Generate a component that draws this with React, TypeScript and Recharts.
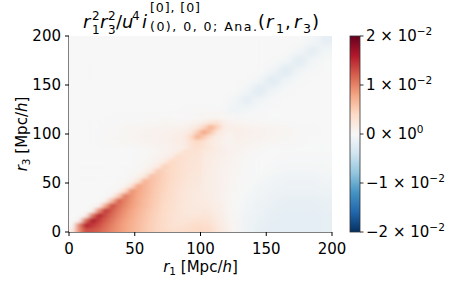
import { Scatter, ScatterChart, XAxis, YAxis } from "recharts";

// values in units of 1e-2

// coarse 10 Mpc/h grid over the whole plane
const coarseR1 = [5, 15, 25, 35, 45, 55, 65, 75, 85, 95, 105, 115, 125, 135, 145, 155, 165, 175, 185, 195];
const coarseR3 = [5, 15, 25, 35, 45, 55, 65, 75, 85, 95, 105, 115, 125, 135, 145, 155, 165, 175, 185, 195];
const coarseRows = [
  [0.6, 1.3, 1.1, 0.92, 0.75, 0.6, 0.46, 0.37, 0.32, 0.36, 0.38, 0.2, 0.04, -0.1, -0.16, -0.19, -0.2, -0.2, -0.2, -0.18],
  [0.05, 1.45, 1.4, 1.05, 0.8, 0.65, 0.49, 0.37, 0.28, 0.28, 0.28, 0.15, 0.03, -0.08, -0.14, -0.18, -0.2, -0.2, -0.2, -0.18],
  [0, 0.1, 1.2, 1.15, 0.88, 0.7, 0.52, 0.4, 0.27, 0.22, 0.2, 0.12, 0.02, -0.06, -0.12, -0.15, -0.18, -0.18, -0.18, -0.16],
  [0, 0, 0.05, 0.9, 0.92, 0.73, 0.55, 0.42, 0.27, 0.2, 0.16, 0.1, 0.02, -0.04, -0.1, -0.13, -0.15, -0.15, -0.15, -0.14],
  [0, 0, 0, 0.03, 0.6, 0.74, 0.57, 0.44, 0.29, 0.21, 0.15, 0.1, 0.03, -0.02, -0.06, -0.1, -0.12, -0.12, -0.12, -0.1],
  [0, 0, 0, 0, 0.04, 0.45, 0.58, 0.45, 0.31, 0.23, 0.15, 0.1, 0.04, 0, -0.03, -0.06, -0.08, -0.08, -0.08, -0.06],
  [0, 0, 0, 0, 0.02, 0.06, 0.35, 0.44, 0.32, 0.25, 0.16, 0.1, 0.05, 0.01, -0.01, -0.03, -0.04, -0.04, -0.04, -0.03],
  [0, 0, 0, 0.01, 0.02, 0.04, 0.08, 0.3, 0.33, 0.27, 0.17, 0.12, 0.06, 0.02, 0, -0.01, -0.02, -0.02, -0.02, -0.02],
  [0, 0, 0, 0, 0.01, 0.02, 0.04, 0.07, 0.15, 0.3, 0.2, 0.14, 0.08, 0.04, 0.02, 0, 0, -0.01, -0.01, -0.01],
  [0, 0, 0.01, 0.03, 0.05, 0.07, 0.09, 0.11, 0.16, 0.35, 0.3, 0.2, 0.13, 0.09, 0.07, 0.05, 0.03, 0.01, 0, 0],
  [0, 0, 0.01, 0.02, 0.04, 0.06, 0.07, 0.09, 0.12, 0.25, 0.4, 0.3, 0.16, 0.11, 0.08, 0.06, 0.04, 0.02, 0.01, 0],
  [0, 0, 0, 0.01, 0.01, 0.02, 0.02, 0.03, 0.04, 0.06, 0.1, 0.1, 0.04, 0.02, 0.01, 0, 0, 0, 0, 0],
  [0, 0, 0, 0, 0, 0, 0, 0, 0, 0.01, 0.02, 0, -0.1, -0.05, -0.02, -0.01, 0, 0, 0, 0],
  [0, 0, 0, 0, 0, 0, 0, 0, 0, 0, 0, 0, -0.05, -0.2, -0.06, -0.02, 0, 0, 0, 0],
  [0, 0, 0, 0, 0, 0, 0, 0, 0, 0, 0, 0, 0, -0.06, -0.28, -0.06, -0.02, 0, 0, 0],
  [0, 0, 0, 0, 0, 0, 0, 0, 0, 0, 0, 0, 0, 0, -0.06, -0.3, -0.06, -0.02, 0, 0],
  [0, 0, 0, 0, 0, 0, 0, 0, 0, 0, 0, 0, 0, 0, 0, -0.06, -0.3, -0.06, -0.02, 0],
  [0, 0, 0, 0, 0, 0, 0, 0, 0, 0, 0, 0, 0, 0, 0, 0, -0.05, -0.26, -0.05, -0.01],
  [0, 0, 0, 0, 0, 0, 0, 0, 0, 0, 0, 0, 0, 0, 0, 0, 0, -0.05, -0.22, -0.05],
  [0, 0, 0, 0, 0, 0, 0, 0, 0, 0, 0, 0, 0, 0, 0, 0, 0, 0, -0.05, -0.18],
];

// finer 5 Mpc/h patch over the wedge near the origin
const wedgeR1 = [2.5, 7.5, 12.5, 17.5, 22.5, 27.5, 32.5, 37.5, 42.5, 47.5, 52.5, 57.5, 62.5, 67.5, 72.5, 77.5, 82.5, 87.5, 92.5, 97.5];
const wedgeR3 = [2.5, 7.5, 12.5, 17.5, 22.5, 27.5, 32.5, 37.5, 42.5, 47.5, 52.5, 57.5, 62.5, 67.5, 72.5, 77.5, 82.5];
const wedgeRows = [
  [0.15, 0.95, 1.3, 1.28, 1.2, 1.09, 0.98, 0.88, 0.79, 0.7, 0.62, 0.55, 0.48, 0.43, 0.38, 0.35, 0.33, 0.34, 0.37, 0.4],
  [0.02, 1.0, 1.58, 1.44, 1.3, 1.15, 1.02, 0.9, 0.8, 0.71, 0.63, 0.55, 0.48, 0.42, 0.37, 0.32, 0.29, 0.3, 0.34, 0.38],
  [0, 0.08, 1.1, 1.63, 1.42, 1.23, 1.08, 0.94, 0.83, 0.73, 0.64, 0.56, 0.49, 0.43, 0.37, 0.32, 0.28, 0.27, 0.28, 0.32],
  [0, 0, 0.08, 1.05, 1.56, 1.33, 1.15, 1.0, 0.87, 0.76, 0.66, 0.58, 0.5, 0.44, 0.37, 0.32, 0.28, 0.25, 0.24, 0.25],
  [0, 0, 0, 0.07, 0.92, 1.45, 1.23, 1.05, 0.91, 0.79, 0.69, 0.6, 0.52, 0.45, 0.38, 0.33, 0.28, 0.24, 0.22, 0.21],
  [0, 0, 0, 0, 0.06, 0.76, 1.33, 1.12, 0.97, 0.84, 0.72, 0.63, 0.54, 0.46, 0.39, 0.33, 0.28, 0.24, 0.21, 0.2],
  [0, 0, 0, 0, 0, 0.06, 0.62, 1.19, 1.01, 0.87, 0.74, 0.64, 0.55, 0.48, 0.41, 0.35, 0.3, 0.25, 0.21, 0.19],
  [0, 0, 0, 0, 0, 0, 0.06, 0.49, 1.05, 0.89, 0.76, 0.66, 0.57, 0.49, 0.42, 0.36, 0.3, 0.25, 0.21, 0.19],
  [0, 0, 0, 0, 0, 0, 0.01, 0.06, 0.37, 0.92, 0.78, 0.68, 0.58, 0.5, 0.43, 0.37, 0.31, 0.26, 0.22, 0.2],
  [0, 0, 0, 0, 0, 0, 0, 0.02, 0.06, 0.3, 0.81, 0.69, 0.59, 0.51, 0.44, 0.38, 0.32, 0.27, 0.23, 0.21],
  [0, 0, 0, 0, 0, 0, 0, 0, 0.02, 0.07, 0.25, 0.71, 0.6, 0.52, 0.45, 0.39, 0.33, 0.28, 0.24, 0.22],
  [0, 0, 0, 0, 0, 0, 0, 0, 0, 0.03, 0.08, 0.22, 0.61, 0.53, 0.46, 0.4, 0.34, 0.29, 0.25, 0.23],
  [0, 0, 0, 0, 0, 0, 0, 0, 0, 0.01, 0.04, 0.09, 0.2, 0.53, 0.46, 0.4, 0.35, 0.3, 0.26, 0.24],
  [0, 0, 0, 0, 0, 0, 0, 0, 0, 0, 0.02, 0.05, 0.1, 0.18, 0.47, 0.41, 0.35, 0.3, 0.27, 0.25],
  [0, 0, 0, 0, 0, 0, 0, 0, 0, 0, 0.01, 0.03, 0.06, 0.1, 0.17, 0.41, 0.36, 0.31, 0.28, 0.26],
  [0, 0, 0, 0, 0, 0, 0, 0, 0, 0, 0.01, 0.02, 0.04, 0.07, 0.1, 0.16, 0.36, 0.32, 0.29, 0.27],
  [0, 0, 0, 0, 0, 0, 0, 0, 0, 0, 0.01, 0.02, 0.03, 0.05, 0.08, 0.1, 0.15, 0.32, 0.3, 0.3],
];

// finer patch over the spot near (103, 102)
const spotR1 = [82.5, 87.5, 92.5, 97.5, 102.5, 107.5, 112.5, 117.5, 122.5];
const spotR3 = [87.5, 92.5, 97.5, 102.5, 107.5, 112.5, 117.5];
const spotRows = [
  [0.11, 0.15, 0.3, 0.33, 0.28, 0.2, 0.14, 0.1, 0.07],
  [0.13, 0.17, 0.3, 0.4, 0.3, 0.19, 0.13, 0.09, 0.06],
  [0.13, 0.17, 0.38, 0.7, 0.52, 0.28, 0.15, 0.1, 0.07],
  [0.11, 0.14, 0.21, 0.48, 0.8, 0.58, 0.24, 0.13, 0.09],
  [0.07, 0.09, 0.13, 0.21, 0.43, 0.7, 0.48, 0.17, 0.1],
  [0.03, 0.04, 0.06, 0.09, 0.15, 0.24, 0.28, 0.13, 0.07],
  [0, 0, 0.01, 0.02, 0.03, 0.04, 0.05, 0.03, 0.02],
];

const axisTicks = [0, 50, 100, 150, 200];
const colorbarTicks = [-2, -1, 0, 1, 2];
const colorbarMantissa = ["\u22122", "\u22121", "0", "1", "2"];
const colorbarExponent = ["\u22122", "\u22122", "0", "\u22122", "\u22122"];

const W = 460;
const H = 287;
const PLOT = { left: 69, top: 36, right: 332, bottom: 232 };
const PW = PLOT.right - PLOT.left;
const PH = PLOT.bottom - PLOT.top;
const DOMAIN = 200;
const VMAX = 2;
const FONT = "DejaVu Sans";

const RDBU = ["#053061", "#2166ac", "#4393c3", "#92c5de", "#d1e5f0", "#f7f7f7", "#fddbc7", "#f4a582", "#d6604d", "#b2182b", "#67001f"];

function hex(c: string) {
  return [1, 3, 5].map((i) => parseInt(c.slice(i, i + 2), 16));
}

function rdbu(v: number) {
  const t = Math.min(1, Math.max(0, (v + VMAX) / (2 * VMAX))) * (RDBU.length - 1);
  const i = Math.min(RDBU.length - 2, Math.floor(t));
  const f = t - i;
  const a = hex(RDBU[i]);
  const b = hex(RDBU[i + 1]);
  const c = a.map((x, k) => Math.round(x + (b[k] - x) * f));
  return `rgb(${c[0]},${c[1]},${c[2]})`;
}

function toCells(xs: number[], ys: number[], rows: number[][]) {
  return rows.flatMap((row, j) => row.map((v, i) => ({ r1: xs[i], r3: ys[j], v })));
}

const coarseCells = toCells(coarseR1, coarseR3, coarseRows);
const wedgeCells = toCells(wedgeR1, wedgeR3, wedgeRows);
const spotCells = toCells(spotR1, spotR3, spotRows);

function makeCell(step: number) {
  const w = (step / DOMAIN) * PW;
  const h = (step / DOMAIN) * PH;
  return function Cell(props: any) {
    const { cx, cy, payload } = props;
    if (cx == null || cy == null) return null;
    let x0 = cx - w / 2;
    let x1 = cx + w / 2;
    let y0 = cy - h / 2;
    let y1 = cy + h / 2;
    // pad cells on the frame so the blur does not fade there
    if (payload.r1 - step / 2 <= 0) x0 -= w;
    if (payload.r1 + step / 2 >= DOMAIN) x1 += w;
    if (payload.r3 - step / 2 <= 0) y1 += h;
    if (payload.r3 + step / 2 >= DOMAIN) y0 -= h;
    return <rect x={x0} y={y0} width={x1 - x0 + 0.6} height={y1 - y0 + 0.6} fill={rdbu(payload.v)} />;
  };
}

const CoarseCell = makeCell(10);
const FineCell = makeCell(5);

const tickStyle = { fontSize: 15, fill: "#000", fontFamily: FONT };

function Colorbar() {
  const x = 350;
  const w = 10;
  const y = (v: number) => PLOT.bottom - ((v + VMAX) / (2 * VMAX)) * PH;
  return (
    <g fontFamily={FONT} fill="#000">
      <rect x={x} y={PLOT.top} width={w} height={PH} fill="url(#cbGrad)" stroke="#333" strokeWidth={0.8} />
      {colorbarTicks.map((t, k) => (
        <g key={t}>
          <line x1={x + w} x2={x + w + 3.5} y1={y(t)} y2={y(t)} stroke="#000" strokeWidth={0.8} />
          <text x={x + w + 6} y={y(t) + 5} fontSize={15}>
            {colorbarMantissa[k]} × 10
            <tspan fontSize={10.5} dy={-6}>
              {colorbarExponent[k]}
            </tspan>
          </text>
        </g>
      ))}
    </g>
  );
}

function Title() {
  const M = 18;
  const S = 12;
  return (
    <g fontFamily={FONT} fill="#000">
      <text x={83} y={28} fontSize={M} fontStyle="italic">r</text>
      <text x={92} y={19.5} fontSize={S}>2</text>
      <text x={92} y={34} fontSize={S}>1</text>
      <text x={100} y={28} fontSize={M} fontStyle="italic">r</text>
      <text x={108} y={19.5} fontSize={S}>2</text>
      <text x={108} y={34} fontSize={S}>3</text>
      <text x={116} y={28} fontSize={M}>/</text>
      <text x={122} y={28} fontSize={M} fontStyle="italic">u</text>
      <text x={132} y={20} fontSize={S}>4</text>
      <text x={142} y={28} fontSize={M} fontStyle="italic">i</text>
      <text x={150} y={12} fontSize={12.6} textLength={50} lengthAdjust="spacing">[0], [0]</text>
      <text x={150} y={31} fontSize={12.6} textLength={107} lengthAdjust="spacing">(0), 0, 0; Ana.</text>
      <text x={258} y={28} fontSize={M}>(</text>
      <text x={266} y={28} fontSize={M} fontStyle="italic">r</text>
      <text x={276} y={33} fontSize={12.6}>1</text>
      <text x={285} y={28} fontSize={M}>,</text>
      <text x={294} y={28} fontSize={M} fontStyle="italic">r</text>
      <text x={303} y={33} fontSize={12.6}>3</text>
      <text x={312} y={28} fontSize={M}>)</text>
    </g>
  );
}

function AxisLabels() {
  return (
    <g fontFamily={FONT} fill="#000" fontSize={15}>
      <text x={(PLOT.left + PLOT.right) / 2} y={272} textAnchor="middle">
        <tspan fontStyle="italic">r</tspan>
        <tspan fontSize={10.5} dy={3}>1</tspan>
        <tspan dy={-3}> [Mpc/</tspan>
        <tspan fontStyle="italic">h</tspan>
        <tspan>]</tspan>
      </text>
      <text transform={`translate(27 ${(PLOT.top + PLOT.bottom) / 2}) rotate(-90)`} textAnchor="middle">
        <tspan fontStyle="italic">r</tspan>
        <tspan fontSize={10.5} dy={3}>3</tspan>
        <tspan dy={-3}> [Mpc/</tspan>
        <tspan fontStyle="italic">h</tspan>
        <tspan>]</tspan>
      </text>
    </g>
  );
}

const css = `
.heat .recharts-scatter { clip-path: url(#plotClip); }
.heat .coarse { filter: url(#blurCoarse); }
.heat .fine { filter: url(#blurFine); }
`;

export default function App() {
  return (
    <div style={{ position: "absolute", left: 0, top: 0, width: W, height: H, background: "#fff" }}>
      <style>{css}</style>
      <svg width={0} height={0} style={{ position: "absolute" }}>
        <defs>
          <filter id="blurCoarse" filterUnits="userSpaceOnUse" x={0} y={0} width={W} height={H}>
            <feGaussianBlur stdDeviation="4.5 3.5" />
          </filter>
          <filter id="blurFine" filterUnits="userSpaceOnUse" x={0} y={0} width={W} height={H}>
            <feGaussianBlur stdDeviation="2.4 1.8" />
          </filter>
          <clipPath id="plotClip" clipPathUnits="userSpaceOnUse">
            <rect x={PLOT.left} y={PLOT.top} width={PW} height={PH} />
          </clipPath>
          <linearGradient id="cbGrad" x1="0" y1="1" x2="0" y2="0">
            {RDBU.map((c, k) => (
              <stop key={k} offset={k / (RDBU.length - 1)} stopColor={c} />
            ))}
          </linearGradient>
        </defs>
      </svg>
      <div className="heat" style={{ position: "absolute", left: 0, top: 0 }}>
        <ScatterChart
          width={W}
          height={H}
          margin={{ top: PLOT.top, right: W - PLOT.right, bottom: H - PLOT.bottom - 30, left: PLOT.left - 45 }}
        >
          <XAxis
            type="number"
            dataKey="r1"
            domain={[0, DOMAIN]}
            ticks={axisTicks}
            height={30}
            tickSize={4}
            tickMargin={7}
            stroke="#000"
            tick={tickStyle}
            allowDataOverflow
          />
          <YAxis
            type="number"
            dataKey="r3"
            domain={[0, DOMAIN]}
            ticks={axisTicks}
            width={45}
            tickSize={4}
            tickMargin={4}
            stroke="#000"
            tick={tickStyle}
            allowDataOverflow
          />
          <XAxis xAxisId="top" orientation="top" type="number" domain={[0, DOMAIN]} height={0} tick={false} tickLine={false} stroke="#000" />
          <YAxis yAxisId="right" orientation="right" type="number" domain={[0, DOMAIN]} width={0} tick={false} tickLine={false} stroke="#000" />
          <Scatter className="coarse" data={coarseCells} shape={<CoarseCell />} isAnimationActive={false} />
          <Scatter className="fine" data={wedgeCells} shape={<FineCell />} isAnimationActive={false} />
          <Scatter className="fine" data={spotCells} shape={<FineCell />} isAnimationActive={false} />
        </ScatterChart>
      </div>
      <svg width={W} height={H} style={{ position: "absolute", left: 0, top: 0, pointerEvents: "none" }}>
        <Title />
        <AxisLabels />
        <Colorbar />
      </svg>
    </div>
  );
}
